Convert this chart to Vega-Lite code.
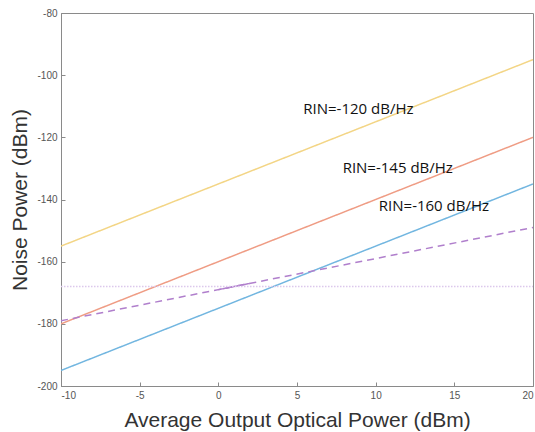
{
  "$schema": "https://vega.github.io/schema/vega-lite/v6.json",
  "autosize": {"type": "none"},
  "width": 472,
  "height": 373,
  "padding": {"left": 61, "top": 13, "right": 2, "bottom": 46},
  "background": "white",
  "config": {
    "view": {"stroke": "#8a8a8a", "strokeWidth": 1},
    "axis": {"labelColor": "#555555", "titleColor": "#333333", "domainColor": "#8a8a8a", "tickColor": "#8a8a8a", "grid": false, "labelFont": "Liberation Sans", "titleFont": "Liberation Sans", "titleFontWeight": "normal"}
  },
  "datasets": {
    "lines": [
      {"series": "RIN=-120 dB/Hz", "x": -10, "y": -155},
      {"series": "RIN=-120 dB/Hz", "x": 20, "y": -95},
      {"series": "RIN=-145 dB/Hz", "x": -10, "y": -180},
      {"series": "RIN=-145 dB/Hz", "x": 20, "y": -120},
      {"series": "RIN=-160 dB/Hz", "x": -10, "y": -195},
      {"series": "RIN=-160 dB/Hz", "x": 20, "y": -135},
      {"series": "shot", "x": -10, "y": -179},
      {"series": "shot", "x": 20, "y": -149},
      {"series": "shotseg", "x": 0, "y": -169},
      {"series": "shotseg", "x": 2, "y": -167},
      {"series": "thermal", "x": -10, "y": -168},
      {"series": "thermal", "x": 20, "y": -168}
    ],
    "labels": [
      {"text": "RIN=-120 dB/Hz", "x": 5.4, "y": -110.8},
      {"text": "RIN=-145 dB/Hz", "x": 7.9, "y": -130},
      {"text": "RIN=-160 dB/Hz", "x": 10.2, "y": -142.2}
    ]
  },
  "layer": [
    {
      "data": {"name": "lines"},
      "mark": {"type": "line", "strokeWidth": 1.5, "clip": true},
      "encoding": {
        "x": {"field": "x", "type": "quantitative", "scale": {"domain": [-10, 20], "nice": false, "zero": false},
          "axis": {"values": [-10, -5, 0, 5, 10, 15, 20], "labelExpr": "'' + datum.value", "title": "Average Output Optical Power (dBm)", "titleFontSize": 21, "labelFontSize": 10, "tickSize": -4, "labelPadding": 8, "titlePadding": 9}},
        "y": {"field": "y", "type": "quantitative", "scale": {"domain": [-200, -80], "nice": false, "zero": false},
          "axis": {"values": [-200, -180, -160, -140, -120, -100, -80], "labelExpr": "'' + datum.value", "title": "Noise Power (dBm)", "titleFontSize": 21, "labelFontSize": 10, "tickSize": -4, "labelPadding": 8, "titlePadding": 6}},
        "color": {"field": "series", "type": "nominal", "legend": null,
          "scale": {"domain": ["RIN=-120 dB/Hz", "RIN=-145 dB/Hz", "RIN=-160 dB/Hz", "shot", "shotseg", "thermal"],
                    "range": ["#F3D585", "#EF9C84", "#72B6E0", "#B07FCC", "#B07FCC", "#DCC8EC"]}},
        "strokeDash": {"field": "series", "type": "nominal", "legend": null,
          "scale": {"domain": ["RIN=-120 dB/Hz", "RIN=-145 dB/Hz", "RIN=-160 dB/Hz", "shot", "shotseg", "thermal"],
                    "range": [[1, 0], [1, 0], [1, 0], [7, 5], [1, 0], [1.5, 1.5]]}}
      }
    },
    {
      "data": {"name": "labels"},
      "mark": {"type": "text", "align": "left", "baseline": "middle", "font": "Open Sans", "fontSize": 15, "color": "#111111"},
      "encoding": {
        "x": {"field": "x", "type": "quantitative"},
        "y": {"field": "y", "type": "quantitative"},
        "text": {"field": "text"}
      }
    }
  ]
}
